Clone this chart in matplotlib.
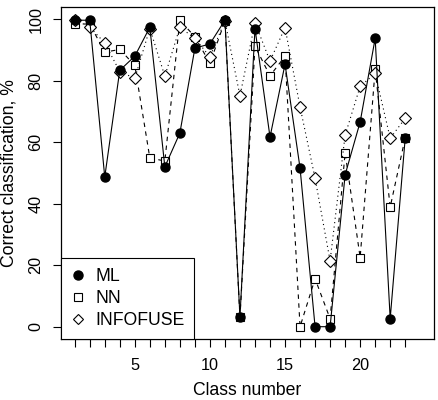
import matplotlib
matplotlib.use("Agg")
import matplotlib.pyplot as plt
import numpy as np

# ------------ Data ---------------
classes = list(range(1, 24))
ml = [99.7, 99.7, 48.7, 83.4, 88.0, 97.4, 52.0, 63.0, 90.6, 92.0, 99.7, 3.2,
      97.0, 61.7, 85.4, 51.6, 0.0, 0.0, 49.4, 66.6, 93.8, 2.6, 61.4]
nn = [98.4, 98.5, 89.3, 90.2, 85.0, 54.9, 53.9, 99.7, 94.3, 85.7, 99.4, 3.0,
      91.3, 81.6, 88.0, 0.0, 15.6, 2.6, 56.6, 22.5, 83.7, 38.9, 61.5]
infofuse = [99.8, 97.5, 92.3, 83.0, 80.8, 97.0, 81.5, 97.4, 93.8, 87.8, 99.5, 75.1,
            98.9, 86.4, 97.3, 71.5, 48.3, 21.4, 62.3, 78.2, 82.4, 61.3, 67.8]
xtick_labels = [5, 10, 15, 20]
ytick_labels = [0, 20, 40, 60, 80, 100]

plt.rcParams['font.family'] = ['Liberation Sans', 'DejaVu Sans']

# ------------ Plot Setup ---------------
fig = plt.figure(figsize=(4.38, 4.0), dpi=100)
ax = fig.add_axes([0.139, 0.1525, 0.852, 0.83])

lw = 0.8
ax.plot(classes, nn, color='black', lw=lw, linestyle=(0, (4, 4)), marker='s',
        markersize=6.0, markerfacecolor='white', markeredgewidth=0.8, label='NN', zorder=2)
ax.plot(classes, infofuse, color='black', lw=lw, linestyle=(0, (1, 3)), marker='D',
        markersize=6.0, markerfacecolor='white', markeredgewidth=0.8, label='INFOFUSE', zorder=2)
ax.plot(classes, ml, color='black', lw=lw, linestyle='-', marker='o',
        markersize=6.5, markerfacecolor='black', label='ML', zorder=3)

ax.set_xlim(0.08, 24.92)
ax.set_ylim(-4, 104)

ax.set_xticks(classes)
ax.set_xticklabels([str(c) if c in xtick_labels else '' for c in classes])
ax.set_yticks(ytick_labels)
ax.set_yticklabels([str(v) for v in ytick_labels], rotation=90, va='center')
ax.tick_params(axis='both', direction='out', length=5.5, width=0.8, labelsize=11.7)
ax.tick_params(axis='x', pad=8)
ax.tick_params(axis='y', pad=7)

for s in ax.spines.values():
    s.set_linewidth(0.9)

ax.set_xlabel('Class number', fontsize=12.7, labelpad=7)
ax.set_ylabel('Correct classification, %', fontsize=12.7, labelpad=8)

# legend with markers only, like R's legend(pch=...)
handles = [
    plt.Line2D([], [], ls='none', marker='o', color='black', markersize=6.5),
    plt.Line2D([], [], ls='none', marker='s', color='black', markerfacecolor='white', markersize=5.5, markeredgewidth=0.8),
    plt.Line2D([], [], ls='none', marker='D', color='black', markerfacecolor='white', markersize=5.5, markeredgewidth=0.8),
]
leg = ax.legend(handles, ['ML', 'NN', 'INFOFUSE'], loc='lower left', fontsize=12.7,
                frameon=True, fancybox=False, borderaxespad=0, edgecolor='black',
                framealpha=1, handlelength=0.8, handletextpad=0.6, labelspacing=0.3,
                borderpad=0.55)
leg.get_frame().set_linewidth(0.8)

fig.savefig('out.png', dpi=100)
